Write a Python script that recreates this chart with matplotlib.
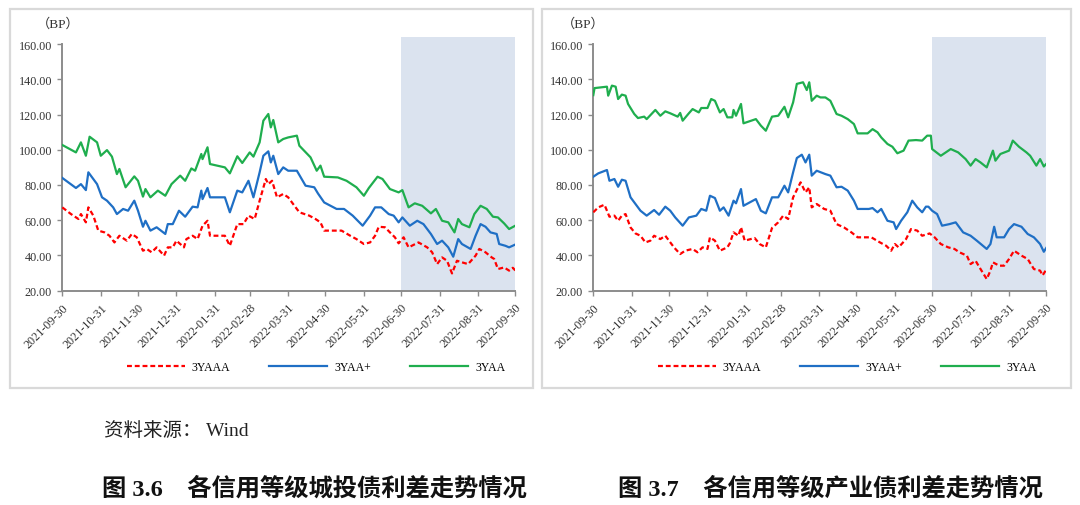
import matplotlib.pyplot as plt
import matplotlib.dates as mdates
from matplotlib.patches import Rectangle
import pandas as pd

plt.rcParams['font.family'] = ['Liberation Serif', 'Noto Sans CJK SC']

# ---- data (spreads in BP) ----
month_ticks = ["2021-09-30", "2021-10-31", "2021-11-30", "2021-12-31", "2022-01-31",
               "2022-02-28", "2022-03-31", "2022-04-30", "2022-05-31", "2022-06-30",
               "2022-07-31", "2022-08-31", "2022-09-30"]
shade_from = "2022-06-30"
shade_to = "2022-09-30"
labels = ["3YAAA", "3YAA+", "3YAA"]

# fig 3.6  城投债
l_aaa_d = ["2021-09-30", "2021-10-07", "2021-10-13", "2021-10-15", "2021-10-19", "2021-10-21",
           "2021-10-25", "2021-10-29", "2021-11-03", "2021-11-07", "2021-11-11", "2021-11-15",
           "2021-11-21", "2021-11-25", "2021-11-29", "2021-12-04", "2021-12-07", "2021-12-11",
           "2021-12-15", "2021-12-21", "2021-12-24", "2021-12-28", "2021-12-31", "2022-01-06",
           "2022-01-08", "2022-01-13", "2022-01-17", "2022-01-21", "2022-01-25", "2022-01-27",
           "2022-02-08", "2022-02-12", "2022-02-18", "2022-02-23", "2022-02-27", "2022-03-04",
           "2022-03-08", "2022-03-13", "2022-03-15", "2022-03-18", "2022-03-22", "2022-03-27",
           "2022-03-31", "2022-04-04", "2022-04-09", "2022-04-17", "2022-04-22", "2022-04-26",
           "2022-04-29", "2022-05-05", "2022-05-13", "2022-05-20", "2022-05-25", "2022-05-31",
           "2022-06-05", "2022-06-09", "2022-06-12", "2022-06-17", "2022-06-21", "2022-06-25",
           "2022-06-28", "2022-07-02", "2022-07-06", "2022-07-14", "2022-07-21", "2022-07-25",
           "2022-07-29", "2022-08-02", "2022-08-06", "2022-08-10", "2022-08-14", "2022-08-18",
           "2022-08-23", "2022-08-29", "2022-09-01", "2022-09-06", "2022-09-11", "2022-09-13",
           "2022-09-16", "2022-09-21", "2022-09-25", "2022-09-28", "2022-09-30"]
l_aaa = [67.3, 63.5, 60.7, 63.5, 58.8, 67.3, 62.6, 54.1, 53.1, 51.2, 47.4, 51.2,
         48.4, 52.2, 50.3, 42.7, 43.7, 41.8, 44.6, 39.9, 44.6, 44.6, 48.4, 44.6,
         49.3, 51.2, 49.3, 56.9, 59.7, 51.2, 51.2, 45.5, 57.8, 57.8, 62.6, 60.7,
         71.1, 83.4, 80.5, 82.4, 73.0, 74.9, 73.0, 69.2, 64.5, 62.6, 60.7, 58.8,
         54.1, 54.1, 54.1, 51.2, 49.3, 46.5, 47.4, 51.2, 56.3, 56.0, 53.1, 50.3,
         46.9, 50.3, 44.6, 47.4, 44.6, 41.8, 35.1, 38.9, 37.0, 29.8, 37.0, 36.1,
         35.1, 39.9, 43.7, 41.8, 38.9, 38.0, 32.3, 33.2, 31.4, 33.0, 31.5]

l_aap_d = ["2021-09-30", "2021-10-11", "2021-10-15", "2021-10-19", "2021-10-21", "2021-10-28",
           "2021-11-01", "2021-11-05", "2021-11-10", "2021-11-13", "2021-11-18", "2021-11-22",
           "2021-11-27", "2021-11-30", "2021-12-04", "2021-12-06", "2021-12-10", "2021-12-15",
           "2021-12-22", "2021-12-24", "2021-12-28", "2022-01-02", "2022-01-07", "2022-01-13",
           "2022-01-17", "2022-01-20", "2022-01-21", "2022-01-25", "2022-01-27", "2022-02-08",
           "2022-02-12", "2022-02-18", "2022-02-22", "2022-02-27", "2022-03-03", "2022-03-08",
           "2022-03-11", "2022-03-15", "2022-03-17", "2022-03-19", "2022-03-23", "2022-03-27",
           "2022-03-31", "2022-04-07", "2022-04-14", "2022-04-21", "2022-04-24", "2022-04-29",
           "2022-05-09", "2022-05-15", "2022-05-22", "2022-05-30", "2022-06-05", "2022-06-09",
           "2022-06-14", "2022-06-20", "2022-06-24", "2022-06-28", "2022-07-01", "2022-07-07",
           "2022-07-13", "2022-07-18", "2022-07-24", "2022-07-29", "2022-08-02", "2022-08-07",
           "2022-08-11", "2022-08-15", "2022-08-18", "2022-08-25", "2022-08-29", "2022-09-02",
           "2022-09-06", "2022-09-10", "2022-09-15", "2022-09-17", "2022-09-22", "2022-09-25",
           "2022-09-30"]
l_aap = [84.0, 78.3, 80.5, 77.1, 87.2, 80.5, 73.0, 71.1, 67.3, 63.5, 66.4, 65.4,
         71.1, 65.4, 56.3, 59.7, 54.1, 56.0, 52.2, 57.8, 57.8, 65.4, 62.0, 67.7,
         67.3, 76.8, 72.0, 78.3, 73.0, 73.0, 64.5, 76.8, 75.8, 82.4, 73.0, 87.2,
         96.6, 99.1, 92.8, 96.6, 86.2, 90.0, 88.1, 88.1, 79.6, 78.7, 75.2, 70.1,
         66.4, 66.4, 62.6, 56.9, 62.6, 67.3, 67.3, 63.5, 62.6, 58.8, 61.6, 56.9,
         59.7, 57.8, 52.2, 46.5, 48.4, 44.6, 39.3, 49.3, 46.5, 43.7, 51.2, 57.8,
         56.3, 53.1, 52.2, 46.5, 45.5, 44.6, 46.2]

l_aa_d = ["2021-09-30", "2021-10-11", "2021-10-15", "2021-10-19", "2021-10-22", "2021-10-28",
          "2021-10-31", "2021-11-05", "2021-11-09", "2021-11-13", "2021-11-15", "2021-11-20",
          "2021-11-27", "2021-11-30", "2021-12-04", "2021-12-06", "2021-12-10", "2021-12-16",
          "2021-12-22", "2021-12-27", "2022-01-03", "2022-01-07", "2022-01-12", "2022-01-15",
          "2022-01-20", "2022-01-21", "2022-01-25", "2022-01-27", "2022-02-08", "2022-02-12",
          "2022-02-18", "2022-02-22", "2022-02-28", "2022-03-03", "2022-03-08", "2022-03-11",
          "2022-03-15", "2022-03-17", "2022-03-19", "2022-03-23", "2022-03-27", "2022-03-31",
          "2022-04-07", "2022-04-09", "2022-04-18", "2022-04-23", "2022-04-26", "2022-04-29",
          "2022-05-10", "2022-05-17", "2022-05-25", "2022-05-31", "2022-06-04", "2022-06-11",
          "2022-06-15", "2022-06-21", "2022-06-28", "2022-07-01", "2022-07-06", "2022-07-11",
          "2022-07-17", "2022-07-24", "2022-07-28", "2022-08-02", "2022-08-07", "2022-08-12",
          "2022-08-15", "2022-08-18", "2022-08-24", "2022-08-28", "2022-09-02", "2022-09-07",
          "2022-09-12", "2022-09-16", "2022-09-21", "2022-09-25", "2022-09-30"]
l_aa = [102.7, 98.5, 104.2, 96.6, 107.4, 104.2, 96.6, 99.8, 96.1, 86.2, 89.1, 78.7,
        84.9, 82.4, 73.4, 77.7, 73.0, 76.8, 73.9, 80.5, 85.3, 82.4, 89.4, 88.1,
        97.6, 94.7, 101.4, 91.9, 90.0, 86.6, 96.3, 92.5, 98.5, 96.1, 104.2, 116.5,
        120.3, 112.7, 116.9, 104.2, 106.1, 107.0, 108.0, 102.3, 95.7, 88.1, 91.0, 84.7,
        84.3, 82.4, 78.7, 73.9, 78.3, 84.7, 83.4, 77.7, 75.8, 77.1, 67.3, 69.6,
        68.2, 63.9, 66.4, 59.7, 58.8, 53.1, 60.7, 57.8, 56.0, 63.5, 68.2, 66.4,
        62.0, 61.6, 58.2, 55.0, 56.9]

# fig 3.7  产业债
r_aaa_d = ["2021-09-30", "2021-10-04", "2021-10-09", "2021-10-13", "2021-10-17", "2021-10-20",
           "2021-10-23", "2021-10-26", "2021-10-30", "2021-11-03", "2021-11-07", "2021-11-11",
           "2021-11-15", "2021-11-18", "2021-11-23", "2021-11-27", "2021-11-30", "2021-12-04",
           "2021-12-09", "2021-12-13", "2021-12-19", "2021-12-23", "2021-12-27", "2021-12-31",
           "2022-01-02", "2022-01-06", "2022-01-10", "2022-01-16", "2022-01-18", "2022-01-21",
           "2022-01-25", "2022-01-27", "2022-01-30", "2022-02-07", "2022-02-11", "2022-02-16",
           "2022-02-21", "2022-02-26", "2022-03-02", "2022-03-06", "2022-03-10", "2022-03-16",
           "2022-03-20", "2022-03-23", "2022-03-25", "2022-03-29", "2022-04-04", "2022-04-09",
           "2022-04-14", "2022-04-20", "2022-04-26", "2022-05-01", "2022-05-12", "2022-05-19",
           "2022-05-24", "2022-05-28", "2022-05-31", "2022-06-03", "2022-06-09", "2022-06-13",
           "2022-06-18", "2022-06-22", "2022-06-28", "2022-07-02", "2022-07-07", "2022-07-13",
           "2022-07-18", "2022-07-22", "2022-07-28", "2022-07-31", "2022-08-04", "2022-08-08",
           "2022-08-13", "2022-08-16", "2022-08-18", "2022-08-23", "2022-08-27", "2022-08-31",
           "2022-09-04", "2022-09-10", "2022-09-15", "2022-09-20", "2022-09-25", "2022-09-27",
           "2022-09-30"]
r_aaa = [64.5, 67.3, 68.8, 62.0, 62.6, 59.7, 62.6, 63.5, 55.9, 52.5, 51.2, 47.4,
         48.4, 51.2, 49.3, 51.2, 48.4, 44.6, 40.8, 42.7, 43.7, 41.8, 44.6, 43.7,
         50.3, 48.4, 42.7, 44.6, 46.9, 53.1, 51.2, 56.0, 48.4, 49.9, 46.5, 44.6,
         55.6, 58.8, 62.6, 60.7, 73.0, 81.5, 75.8, 78.7, 67.3, 69.2, 66.4, 65.4,
         57.8, 55.9, 53.1, 50.3, 50.3, 47.4, 45.5, 42.7, 46.5, 44.6, 49.3, 55.0,
         54.1, 51.2, 52.5, 50.3, 46.5, 44.6, 43.7, 41.8, 39.9, 35.1, 37.0, 32.3,
         26.6, 31.4, 36.1, 34.2, 34.2, 38.0, 42.7, 39.9, 38.0, 32.3, 31.4, 28.7,
         32.0]

r_aap_d = ["2021-09-30", "2021-10-04", "2021-10-11", "2021-10-13", "2021-10-17", "2021-10-20",
           "2021-10-23", "2021-10-26", "2021-10-30", "2021-11-03", "2021-11-07", "2021-11-12",
           "2021-11-18", "2021-11-22", "2021-11-27", "2021-12-01", "2021-12-05", "2021-12-11",
           "2021-12-16", "2021-12-22", "2021-12-26", "2021-12-30", "2022-01-02", "2022-01-06",
           "2022-01-10", "2022-01-13", "2022-01-17", "2022-01-21", "2022-01-23", "2022-01-27",
           "2022-01-29", "2022-02-08", "2022-02-12", "2022-02-16", "2022-02-21", "2022-02-26",
           "2022-03-03", "2022-03-06", "2022-03-10", "2022-03-13", "2022-03-17", "2022-03-20",
           "2022-03-23", "2022-03-25", "2022-03-29", "2022-04-05", "2022-04-09", "2022-04-14",
           "2022-04-18", "2022-04-23", "2022-04-28", "2022-05-01", "2022-05-10", "2022-05-13",
           "2022-05-17", "2022-05-20", "2022-05-25", "2022-05-30", "2022-06-01", "2022-06-05",
           "2022-06-10", "2022-06-14", "2022-06-18", "2022-06-22", "2022-06-25", "2022-06-27",
           "2022-06-30", "2022-07-04", "2022-07-08", "2022-07-14", "2022-07-19", "2022-07-25",
           "2022-07-31", "2022-08-05", "2022-08-13", "2022-08-16", "2022-08-19", "2022-08-21",
           "2022-08-27", "2022-08-31", "2022-09-04", "2022-09-10", "2022-09-15", "2022-09-20",
           "2022-09-25", "2022-09-28", "2022-09-30"]
r_aap = [84.7, 86.6, 88.5, 82.4, 83.4, 79.0, 83.0, 82.4, 73.0, 69.2, 65.4, 62.6,
         65.8, 63.1, 67.7, 65.4, 61.6, 56.9, 61.6, 62.6, 66.4, 65.4, 73.9, 72.6,
         65.4, 67.3, 62.6, 71.1, 69.6, 77.7, 68.2, 72.0, 65.4, 63.9, 73.0, 73.0,
         79.6, 75.8, 87.2, 95.3, 97.2, 92.8, 97.2, 85.3, 88.1, 86.2, 85.3, 78.7,
         79.0, 76.8, 71.1, 66.4, 66.4, 66.9, 64.5, 66.4, 59.7, 58.8, 55.0, 59.7,
         64.5, 71.1, 67.3, 64.5, 67.7, 67.7, 65.4, 63.5, 56.9, 57.8, 58.8, 53.1,
         51.2, 48.4, 43.7, 46.5, 56.3, 50.3, 50.3, 55.0, 57.8, 56.3, 52.2, 50.3,
         46.5, 42.1, 44.3]

r_aa_d = ["2021-09-30", "2021-10-01", "2021-10-11", "2021-10-12", "2021-10-15", "2021-10-18",
          "2021-10-20", "2021-10-23", "2021-10-26", "2021-10-28", "2021-11-02", "2021-11-05",
          "2021-11-10", "2021-11-12", "2021-11-19", "2021-11-23", "2021-11-27", "2021-12-01",
          "2021-12-07", "2021-12-09", "2021-12-11", "2021-12-16", "2021-12-19", "2021-12-24",
          "2021-12-26", "2021-12-31", "2022-01-03", "2022-01-06", "2022-01-10", "2022-01-13",
          "2022-01-16", "2022-01-20", "2022-01-21", "2022-01-23", "2022-01-27", "2022-01-29",
          "2022-02-08", "2022-02-12", "2022-02-16", "2022-02-21", "2022-02-26", "2022-03-03",
          "2022-03-06", "2022-03-10", "2022-03-13", "2022-03-18", "2022-03-21", "2022-03-23",
          "2022-03-25", "2022-03-29", "2022-04-01", "2022-04-05", "2022-04-09", "2022-04-14",
          "2022-04-18", "2022-04-23", "2022-04-28", "2022-05-01", "2022-05-09", "2022-05-13",
          "2022-05-17", "2022-05-20", "2022-05-25", "2022-05-29", "2022-06-02", "2022-06-07",
          "2022-06-11", "2022-06-17", "2022-06-22", "2022-06-26", "2022-06-29", "2022-06-30",
          "2022-07-07", "2022-07-11", "2022-07-15", "2022-07-21", "2022-07-27", "2022-07-31",
          "2022-08-04", "2022-08-08", "2022-08-13", "2022-08-18", "2022-08-20", "2022-08-24",
          "2022-08-31", "2022-09-03", "2022-09-08", "2022-09-14", "2022-09-17", "2022-09-22",
          "2022-09-25", "2022-09-28", "2022-09-30"]
r_aa = [131.0, 135.0, 135.8, 130.7, 136.4, 135.8, 128.8, 131.3, 130.7, 126.0, 120.3, 118.0,
        118.8, 117.4, 122.6, 119.3, 121.8, 120.7, 118.8, 120.9, 116.5, 120.7, 123.1, 121.2,
        123.7, 123.7, 128.8, 127.8, 121.2, 123.1, 118.4, 118.4, 122.6, 119.3, 126.0, 115.0,
        117.4, 113.7, 110.8, 118.8, 119.3, 124.4, 118.4, 126.9, 137.4, 138.3, 133.9, 138.3,
        127.8, 130.7, 129.7, 129.7, 127.8, 120.3, 119.3, 117.4, 114.6, 109.3, 109.3, 111.7,
        109.9, 107.0, 103.3, 101.7, 98.0, 99.5, 105.2, 105.5, 105.2, 108.0, 108.0, 100.4,
        96.6, 98.5, 100.4, 98.5, 94.7, 91.0, 94.7, 92.8, 90.0, 99.5, 93.8, 97.6,
        99.5, 105.2, 101.7, 98.5, 96.6, 91.0, 94.7, 90.5, 92.0]

colors = ['#ff0000', '#1f6fc5', '#1fae4e']
styles = [(0, (2.2, 1.3)), '-', '-']
axis_col = '#8c8c8c'

fig = plt.figure(figsize=(10.8, 5.06), dpi=100)
W, H = 1080.0, 506.0

# panel frames
for x0, x1 in [(10, 533), (542, 1071)]:
    fig.add_artist(Rectangle((x0 / W, 1 - 389 / H), (x1 - x0) / W, 379 / H,
                             transform=fig.transFigure, fill=False,
                             edgecolor='#d9d9d9', lw=1.6))


def panel(left_px, series, bp_x, legend_cx):
    ax = fig.add_axes([left_px / W, 1 - 291.7 / H, 453.0 / W, 253.7 / H])
    ax.axvspan(pd.Timestamp(shade_from), pd.Timestamp(shade_to), ymin=0.0, ymax=1.0,
               color='#dbe3ef', lw=0, zorder=0)
    for (d, v), lab, c, ls in zip(series, labels, colors, styles):
        ax.plot(pd.to_datetime(d), v, color=c, ls=ls, lw=1.6, label=lab, zorder=3)
    ax.set_xlim(pd.Timestamp(month_ticks[0]), pd.Timestamp(month_ticks[-1]))
    ax.set_ylim(20, 164)
    ax.set_yticks(range(20, 161, 20))
    ax.set_yticklabels([f"{v:.2f}" for v in range(20, 161, 20)])
    ax.set_xticks(pd.to_datetime(month_ticks))
    ax.xaxis.set_major_formatter(mdates.DateFormatter('%Y-%m-%d'))
    for lbl in ax.get_xticklabels():
        lbl.set_rotation(45)
        lbl.set_ha('right')
        lbl.set_rotation_mode('anchor')
    ax.tick_params(axis='both', labelsize=8.7, colors='#333333', length=3.5,
                   width=1.0, direction='out')
    ax.tick_params(axis='x', pad=4)
    ax.tick_params(axis='y', pad=4)
    for s in ['top', 'right']:
        ax.spines[s].set_visible(False)
    for s in ['left', 'bottom']:
        ax.spines[s].set_color(axis_col)
        ax.spines[s].set_linewidth(1.4)
    ax.tick_params(color=axis_col)
    ax.spines['left'].set_bounds(20, 160)
    fig.text(bp_x / W, 1 - 24 / H, "（BP）", fontsize=9.5, ha='left', va='center',
             color='#333333')
    ax.legend(loc='center', bbox_to_anchor=(legend_cx / W, 1 - 368 / H),
              bbox_transform=fig.transFigure, ncol=3, frameon=False, fontsize=8.5,
              handlelength=4.9, handletextpad=0.6, columnspacing=3.3)
    return ax


panel(62.3, [(l_aaa_d, l_aaa), (l_aap_d, l_aap), (l_aa_d, l_aa)], 37, 316)
panel(593.3, [(r_aaa_d, r_aaa), (r_aap_d, r_aap), (r_aa_d, r_aa)], 562, 847)

fig.text(104 / W, 1 - 431 / H, "资料来源： Wind", fontsize=14, ha='left', va='center',
         color='#222222')
fig.text(102 / W, 1 - 489 / H, "图 3.6    各信用等级城投债利差走势情况", fontsize=17.5,
         fontweight='bold', ha='left', va='center', color='#111111')
fig.text(618 / W, 1 - 489 / H, "图 3.7    各信用等级产业债利差走势情况", fontsize=17.5,
         fontweight='bold', ha='left', va='center', color='#111111')

fig.savefig('out.png', dpi=100)
